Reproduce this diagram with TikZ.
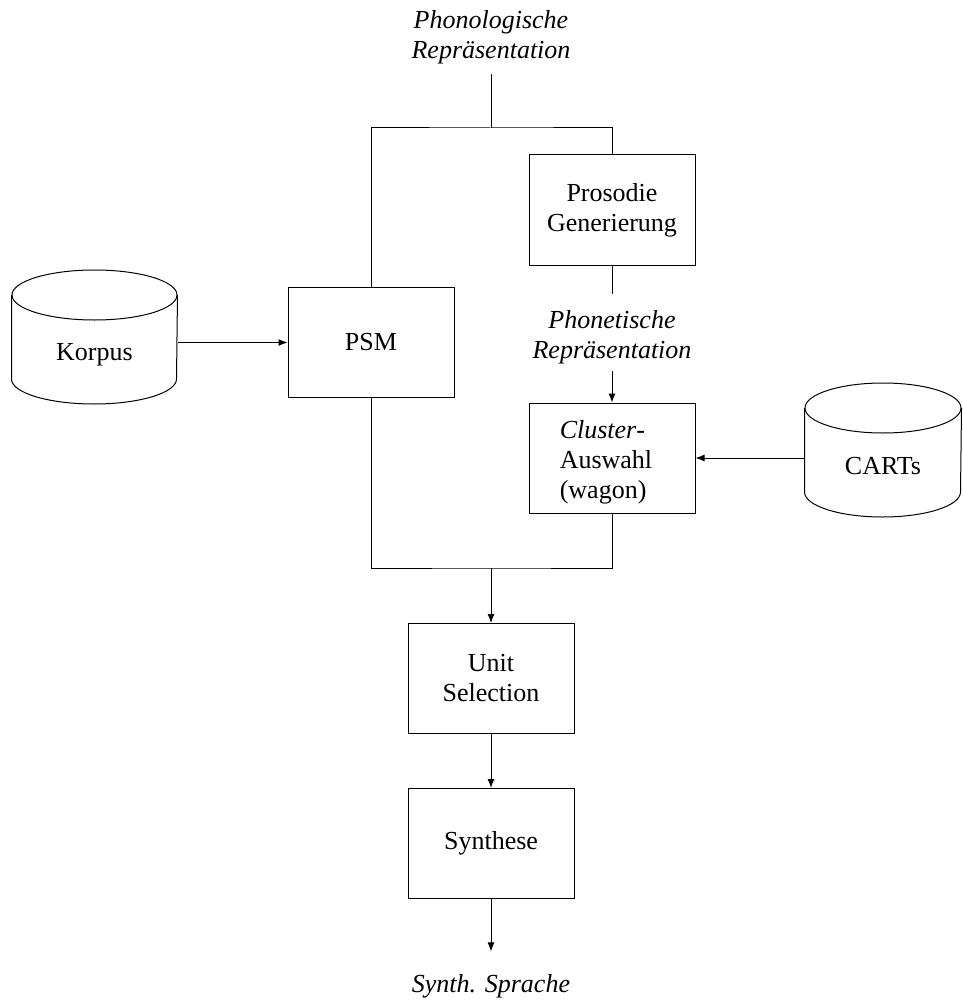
\documentclass[tikz,border=0pt]{standalone}
\usepackage{fontspec}
\setmainfont{Liberation Serif}
\usetikzlibrary{arrows.meta}

% outline of a drum (cylinder) around a body node: #1 node, #2 half width
\newcommand\drumoutline[2]{%
  \draw (#1.north west) -- (#1.south west)
        arc[start angle=180, end angle=360, x radius=#2, y radius=25pt]
        -- (#1.north east);
  \draw (#1.north) ellipse [x radius=#2, y radius=25pt];
}

\begin{document}
\begin{tikzpicture}[x=1pt, y=-1pt, line width=1pt,
  every node/.style={font=\fontsize{26}{30}\selectfont, inner sep=0pt},
  box/.style={draw, minimum width=166pt, minimum height=110pt, align=center},
  drumbody/.style={minimum height=83pt},
  flow/.style={-{Latex[length=9pt, width=7pt]}},
  label text/.style={font=\fontsize{26}{30}\selectfont\itshape, align=center}]

\useasboundingbox (0,0) rectangle (962,1003);

% processing blocks
\node[box] (psm)   at (371, 342.5) {PSM};
\node[box] (pros)  at (612, 210)   {Prosodie\\Generierung};
\node[box, align=left] (clus) at (612, 458)
     {\hspace*{-12pt}\rule{0pt}{26pt}\textit{Cluster}-\\\hspace*{-12pt}Auswahl\\\hspace*{-12pt}(wagon)};
\node[box] (unit)  at (491, 678.5) {Unit\\Selection};
\node[box] (synth) at (491, 843.5) {Synthese};

% data stores
\node[drumbody, minimum width=165pt,
      label={[yshift=-18pt]center:Korpus}] (korpus) at (94.5, 337) {};
\drumoutline{korpus}{82.5pt}
\node[drumbody, minimum width=156pt,
      label={[yshift=-16pt]center:CARTs}] (carts) at (883, 450) {};
\drumoutline{carts}{78pt}

% representations
\node[label text] (phon)   at (491, 37)  {Phonologische\\Repräsentation};
\node[label text] (phonet) at (612, 337) {Phonetische\\Repräsentation};
\node[label text, anchor=base] (out) at (491, 992) {Synth. Sprache};

% junctions
\coordinate (jt) at (491, 128);
\coordinate (jb) at (491, 568);

% connectors
\draw ([yshift=-10pt]phon.south) -- (jt);
\draw (psm.north) |- (jt) -| (pros.north);
\draw (pros.south) -- ([yshift=16pt]phonet.north);
\draw[flow] ([yshift=-7pt]phonet.south) -- (clus.north);
\draw (psm.south) |- (jb) -| (clus.south);
\draw[flow] (jb) -- (unit.north);
\draw[flow] (unit.south) -- (synth.north);
\draw[flow] (synth.south) -- ([yshift=22pt]out.north);
\draw[flow] (korpus.east |- psm.west) -- (psm.west);
\draw[flow] (carts.west |- clus.east) -- (clus.east);
\end{tikzpicture}
\end{document}
